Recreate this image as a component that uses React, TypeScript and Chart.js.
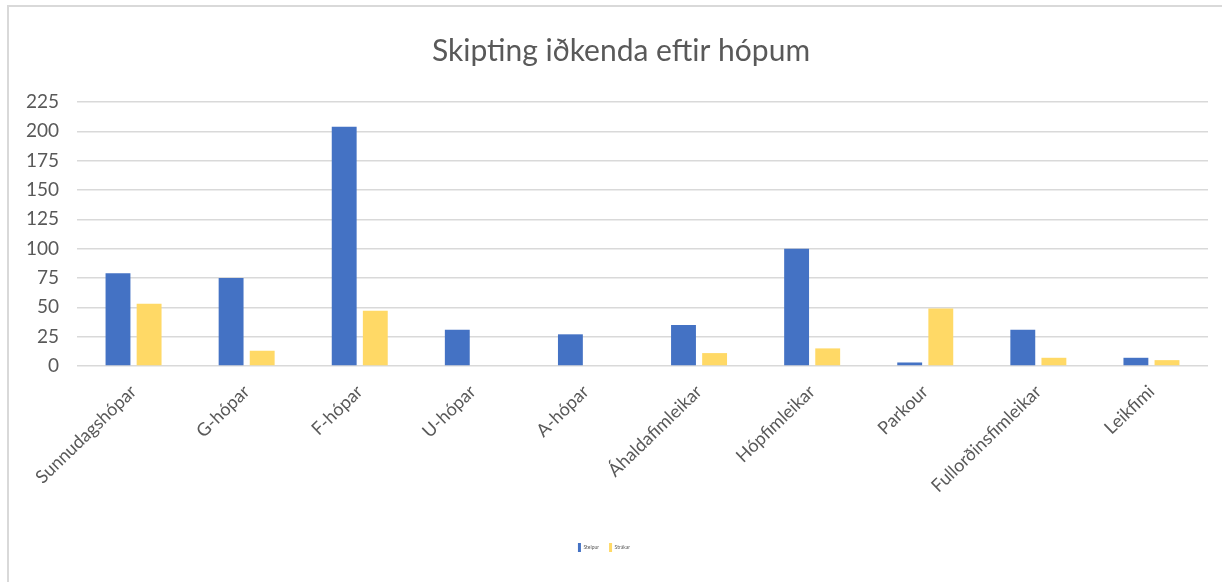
import React, { useEffect, useRef } from "react";
import { Chart, registerables } from "chart.js";

Chart.register(...registerables);

const title = "Skipting iðkenda eftir hópum";
const categories = [
  "Sunnudagshópar",
  "G-hópar",
  "F-hópar",
  "U-hópar",
  "A-hópar",
  "Áhaldafimleikar",
  "Hópfimleikar",
  "Parkour",
  "Fullorðinsfimleikar",
  "Leikfimi",
];
const seriesNames = ["Stelpur", "Strákar"];
const seriesA = [79, 75, 204, 31, 27, 35, 100, 3, 31, 7];
const seriesB = [53, 13, 47, 0, 0, 11, 15, 49, 7, 5];
const yTicks = [0, 25, 50, 75, 100, 125, 150, 175, 200, 225];

const titlePlugin = {
  id: "centeredTitle",
  afterDraw(chart: any) {
    const ctx = chart.ctx;
    ctx.save();
    ctx.font = "normal 30px Lato";
    ctx.fillStyle = "#595959";
    ctx.textAlign = "center";
    ctx.textBaseline = "middle";
    ctx.fillText(title, 621, 51);
    ctx.restore();
  },
};

export default function App() {
  const ref = useRef<HTMLCanvasElement | null>(null);

  useEffect(() => {
    if (!ref.current) return;
    const chart = new Chart(ref.current, {
      type: "bar",
      data: {
        labels: categories,
        datasets: [
          {
            label: seriesNames[0],
            data: seriesA,
            backgroundColor: "#4472C4",
            categoryPercentage: 0.55,
            barPercentage: 0.8,
          },
          {
            label: seriesNames[1],
            data: seriesB,
            backgroundColor: "#FFD966",
            categoryPercentage: 0.55,
            barPercentage: 0.8,
          },
        ],
      },
      plugins: [titlePlugin],
      options: {
        animation: false,
        responsive: false,
        maintainAspectRatio: false,
        layout: { padding: { left: 0, right: 14, top: 102, bottom: 20 } },
        plugins: {
          title: { display: false },
          legend: {
            display: true,
            position: "bottom",
            labels: {
              font: { family: "Lato", size: 5 },
              color: "#595959",
              boxWidth: 3,
              boxHeight: 9,
              padding: 10,
            },
          },
          tooltip: { enabled: false },
        },
        scales: {
          x: {
            grid: { display: false },
            border: { display: false },
            ticks: {
              color: "#595959",
              font: { family: "Lato", size: 18 },
              minRotation: 44,
              maxRotation: 44,
              autoSkip: false,
              padding: 7,
            },
            afterFit: (s: any) => {
              s.height = 167;
            },
          },
          y: {
            min: 0,
            max: 225,
            afterBuildTicks: (s: any) => {
              s.ticks = yTicks.map((v) => ({ value: v }));
            },
            grid: { color: "#d9d9d9", lineWidth: 1.5, drawTicks: false },
            border: { display: false },
            ticks: {
              color: "#595959",
              font: { family: "Lato", size: 19 },
              padding: 18,
            },
            afterFit: (s: any) => {
              s.width = 77;
            },
          },
        },
      },
    });
    return () => chart.destroy();
  }, []);

  return (
    <div style={{ position: "absolute", left: 0, top: 0, width: 1222, height: 582, background: "#fff" }}>
      <div
        style={{
          position: "absolute",
          left: 7,
          top: 5,
          width: 1215,
          height: 577,
          borderTop: "2px solid #d9d9d9",
          borderLeft: "2px solid #d9d9d9",
          boxSizing: "border-box",
        }}
      />
      <canvas ref={ref} width={1222} height={582} style={{ position: "absolute", left: 0, top: 0 }} />
    </div>
  );
}
